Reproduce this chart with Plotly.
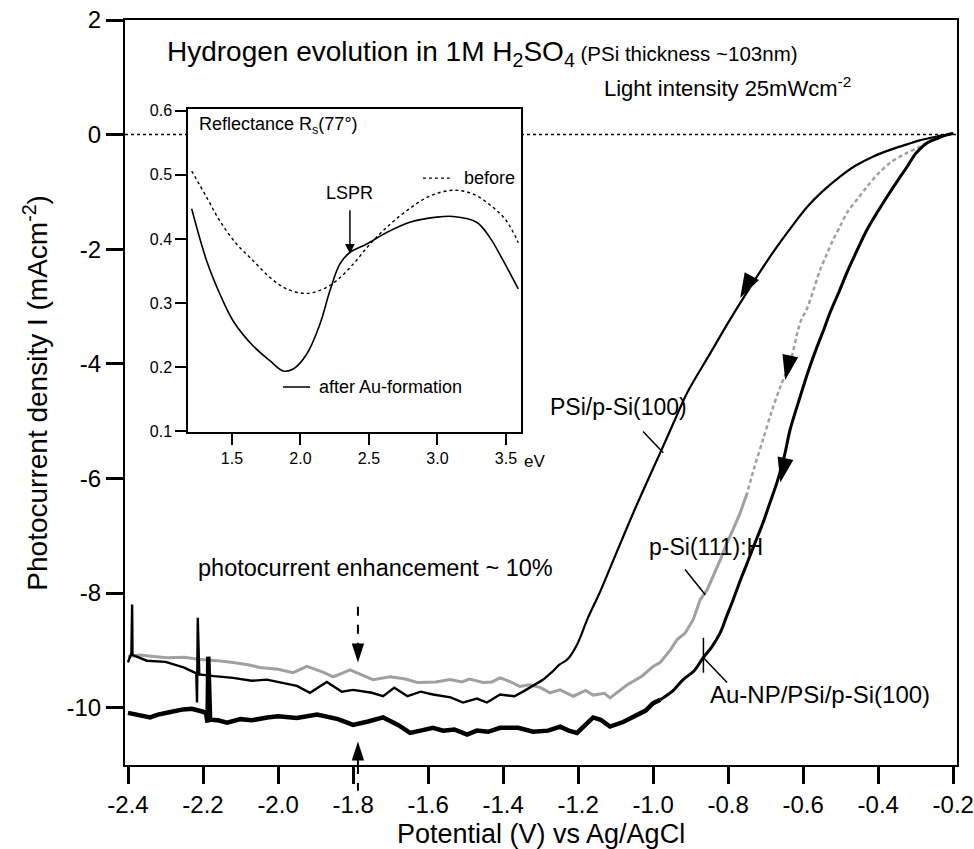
import plotly.graph_objects as go

# ---------------- main panel data ----------------
psi_x = [-0.200, -0.215, -0.235, -0.256, -0.290, -0.323, -0.370, -0.413, -0.460, -0.501,
         -0.550, -0.589, -0.630, -0.680, -0.745, -0.800, -0.850, -0.909, -0.945, -0.981,
         -1.017, -1.053, -1.100, -1.141, -1.175, -1.203, -1.229, -1.250, -1.270, -1.293,
         -1.320, -1.347, -1.370, -1.408, -1.443, -1.470, -1.507, -1.540, -1.587, -1.620,
         -1.655, -1.690, -1.720, -1.750, -1.800, -1.830, -1.870, -1.915, -1.950, -2.000,
         -2.030, -2.070, -2.120, -2.170, -2.210, -2.214, -2.216, -2.218, -2.250, -2.300,
         -2.350, -2.380, -2.388, -2.389, -2.391, -2.400]
psi_y = [0.02, 0.00, -0.02, -0.05, -0.10, -0.17, -0.27, -0.38, -0.54, -0.73,
         -1.00, -1.26, -1.60, -2.05, -2.70, -3.28, -3.84, -4.50, -5.02, -5.55,
         -6.07, -6.60, -7.33, -7.97, -8.45, -8.90, -9.16, -9.25, -9.38, -9.51,
         -9.62, -9.72, -9.80, -9.77, -9.91, -9.84, -9.91, -9.82, -9.77, -9.72,
         -9.80, -9.65, -9.80, -9.74, -9.69, -9.72, -9.55, -9.74, -9.62, -9.55,
         -9.51, -9.53, -9.48, -9.45, -9.42, -8.43, -9.91, -9.40, -9.30, -9.20,
         -9.18, -9.10, -9.08, -8.20, -9.05, -9.21]
psi_smooth_end = 29     # smooth photo-onset part ends here, noisy plateau follows

si111_x = [-0.200, -0.215, -0.240, -0.265, -0.288, -0.330, -0.368, -0.400, -0.430, -0.455,
           -0.483, -0.500, -0.520, -0.538, -0.555, -0.572, -0.589, -0.608, -0.635, -0.661,
           -0.685, -0.707, -0.730, -0.749, -0.768, -0.787, -0.805, -0.821, -0.840, -0.856,
           -0.875, -0.893, -0.915, -0.936, -0.955, -0.981, -1.000, -1.030, -1.069, -1.090,
           -1.115, -1.130, -1.160, -1.180, -1.213, -1.248, -1.275, -1.300, -1.330, -1.355,
           -1.380, -1.408, -1.430, -1.453, -1.490, -1.510, -1.541, -1.580, -1.629, -1.660,
           -1.701, -1.747, -1.780, -1.808, -1.830, -1.853, -1.880, -1.923, -1.960, -2.000,
           -2.048, -2.080, -2.120, -2.160, -2.208, -2.250, -2.296, -2.340, -2.370, -2.400]
si111_y = [0.02, 0.00, -0.05, -0.12, -0.21, -0.34, -0.49, -0.68, -0.91, -1.12,
           -1.36, -1.58, -1.83, -2.10, -2.36, -2.70, -3.02, -3.28, -3.98, -4.40,
           -4.85, -5.32, -5.80, -6.25, -6.60, -6.89, -7.15, -7.42, -7.70, -7.94,
           -8.12, -8.46, -8.70, -8.81, -9.00, -9.21, -9.28, -9.45, -9.60, -9.70,
           -9.83, -9.75, -9.78, -9.70, -9.80, -9.69, -9.74, -9.65, -9.60, -9.63,
           -9.55, -9.48, -9.55, -9.56, -9.50, -9.55, -9.51, -9.55, -9.56, -9.50,
           -9.46, -9.51, -9.42, -9.34, -9.40, -9.46, -9.38, -9.28, -9.39, -9.33,
           -9.30, -9.25, -9.21, -9.18, -9.16, -9.12, -9.13, -9.10, -9.08, -9.11]
si111_dash_end = 23   # dashed part of the p-Si(111):H sweep

au_x = [-0.200, -0.215, -0.240, -0.269, -0.300, -0.323, -0.350, -0.376, -0.400, -0.430,
        -0.455, -0.483, -0.505, -0.528, -0.545, -0.563, -0.585, -0.608, -0.635, -0.650,
        -0.669, -0.690, -0.707, -0.730, -0.749, -0.770, -0.787, -0.805, -0.821, -0.845,
        -0.867, -0.890, -0.920, -0.950, -0.981, -1.000, -1.020, -1.053, -1.080, -1.115,
        -1.140, -1.160, -1.180, -1.203, -1.225, -1.248, -1.280, -1.320, -1.360, -1.408,
        -1.440, -1.470, -1.496, -1.530, -1.560, -1.587, -1.620, -1.648, -1.680, -1.720,
        -1.760, -1.800, -1.840, -1.896, -1.950, -2.000, -2.029, -2.070, -2.100, -2.136,
        -2.160, -2.181, -2.186, -2.188, -2.192, -2.200, -2.230, -2.253, -2.290, -2.320,
        -2.341, -2.370, -2.400]
au_y = [0.02, 0.00, -0.06, -0.14, -0.33, -0.56, -0.82, -1.08, -1.33, -1.66,
        -2.00, -2.40, -2.75, -3.10, -3.40, -3.70, -4.10, -4.57, -5.15, -5.60,
        -6.05, -6.45, -6.77, -7.15, -7.47, -7.82, -8.12, -8.42, -8.69, -8.95,
        -9.13, -9.35, -9.51, -9.72, -9.86, -9.92, -10.05, -10.16, -10.25, -10.33,
        -10.21, -10.17, -10.30, -10.44, -10.40, -10.33, -10.40, -10.42, -10.35, -10.35,
        -10.42, -10.40, -10.47, -10.38, -10.40, -10.35, -10.40, -10.44, -10.30, -10.17,
        -10.24, -10.30, -10.20, -10.12, -10.18, -10.15, -10.17, -10.22, -10.20, -10.26,
        -10.22, -10.21, -9.11, -10.26, -10.10, -10.07, -10.02, -10.03, -10.08, -10.12,
        -10.17, -10.13, -10.09]
au_smooth_end = 34

x_ticks = [-2.4, -2.2, -2.0, -1.8, -1.6, -1.4, -1.2, -1.0, -0.8, -0.6, -0.4, -0.2]
y_ticks = [-10, -8, -6, -4, -2, 0, 2]
x_range = [-2.408, -0.19]
y_range = [-11.0, 2.0]

# arrow heads along the sweeps: (x, y, direction angle)
sweep_arrow_x = [-0.768, -0.648, -0.661]
sweep_arrow_y = [-2.85, -4.28, -6.07]
sweep_arrow_angle = [208, 192, 192]

# enhancement markers at -1.79 V
enh_x = -1.787
enh_top = [-8.24, -9.21]
enh_bottom = [-10.59, -11.45]

# ---------------- inset data ----------------
after_E = [1.206, 1.315, 1.412, 1.509, 1.655, 1.777, 1.874, 1.947, 2.045, 2.142,
           2.215, 2.288, 2.361, 2.483, 2.629, 2.799, 2.994, 3.115, 3.286, 3.383,
           3.480, 3.590]
after_R = [0.447, 0.366, 0.314, 0.272, 0.233, 0.210, 0.194, 0.197, 0.220, 0.267,
           0.319, 0.361, 0.379, 0.392, 0.410, 0.426, 0.434, 0.435, 0.426, 0.402,
           0.366, 0.322]
before_E = [1.206, 1.315, 1.412, 1.534, 1.655, 1.777, 1.899, 2.045, 2.167, 2.264,
            2.386, 2.508, 2.629, 2.775, 2.945, 3.115, 3.261, 3.407, 3.504, 3.590]
before_R = [0.506, 0.465, 0.428, 0.392, 0.366, 0.340, 0.322, 0.315, 0.322, 0.335,
            0.361, 0.392, 0.418, 0.444, 0.467, 0.476, 0.470, 0.449, 0.428, 0.394]
inset_x_ticks = [1.5, 2.0, 2.5, 3.0, 3.5]
inset_y_ticks = [0.1, 0.2, 0.3, 0.4, 0.5, 0.6]
inset_x_range = [1.179, 3.61]
inset_y_range = [0.098, 0.603]
lspr_E = 2.361
lspr_R = [0.447, 0.377]
ev_unit_E = 3.62

FONT = "Arial, Liberation Sans, sans-serif"
inset_dom_x = [0.0757, 0.476]
inset_dom_y = [0.4464, 0.8807]

fig = go.Figure()

def main_px_to_x(frac):
    return x_range[0] + frac * (x_range[1] - x_range[0])

def y_to_paper(v):
    return (v - y_range[0]) / (y_range[1] - y_range[0])

def inset_E_to_paper(e):
    f = (e - inset_x_range[0]) / (inset_x_range[1] - inset_x_range[0])
    return inset_dom_x[0] + f * (inset_dom_x[1] - inset_dom_x[0])

def add_curve(xs, ys, split, color, w_smooth, w_flat, dash_smooth=None):
    fig.add_trace(go.Scatter(x=xs[:split + 1], y=ys[:split + 1], mode="lines",
                             line=dict(color=color, width=w_smooth, dash=dash_smooth,
                                       shape="spline", smoothing=0.9), showlegend=False))
    fig.add_trace(go.Scatter(x=xs[split:], y=ys[split:], mode="lines",
                             line=dict(color=color, width=w_flat), showlegend=False))

add_curve(si111_x, si111_y, si111_dash_end, "#a0a0a0", 2.5, 3, "4px,3px")
add_curve(psi_x, psi_y, psi_smooth_end, "black", 2.2, 2.4)
add_curve(au_x, au_y, au_smooth_end, "black", 3, 4.5)

# sweep direction arrows
fig.add_trace(go.Scatter(x=sweep_arrow_x, y=sweep_arrow_y, mode="markers",
                         marker=dict(symbol="arrow", size=26, angle=sweep_arrow_angle, color="black",
                                     line=dict(width=0)), showlegend=False))
# enhancement arrows
fig.add_trace(go.Scatter(x=[enh_x, enh_x], y=[enh_top[1], enh_bottom[0]], mode="markers",
                         marker=dict(symbol="arrow", size=20, angle=[180, 0], color="black",
                                     line=dict(width=0)), showlegend=False))

# inset curves
fig.add_trace(go.Scatter(x=before_E, y=before_R, mode="lines", xaxis="x2", yaxis="y2",
                         line=dict(color="black", width=1.4, dash="dot", shape="spline"), showlegend=False))
fig.add_trace(go.Scatter(x=after_E, y=after_R, mode="lines", xaxis="x2", yaxis="y2",
                         line=dict(color="black", width=1.6, shape="spline"), showlegend=False))

shapes = []
# zero line split around the inset
x_in_left = main_px_to_x(inset_dom_x[0])
x_in_right = main_px_to_x(inset_dom_x[1])
for xa, xb in [(x_range[0], x_in_left), (x_in_right, x_range[1])]:
    shapes.append(dict(type="line", xref="x", yref="y", x0=xa, x1=xb, y0=0, y1=0,
                       line=dict(color="black", width=1.5, dash="dot")))
# leader lines
for (x0, y0, x1, y1) in [(-1.027, -5.18, -0.973, -5.55),
                         (-0.915, -7.59, -0.861, -8.03),
                         (-0.866, -9.13, -0.803, -9.56),
                         (-0.866, -8.78, -0.866, -9.39)]:
    shapes.append(dict(type="line", xref="x", yref="y", x0=x0, x1=x1, y0=y0, y1=y1,
                       line=dict(color="black", width=1.5)))
# enhancement arrow shafts
shapes.append(dict(type="line", xref="x", yref="y", x0=enh_x, x1=enh_x, y0=enh_top[0], y1=-8.9,
                   line=dict(color="black", width=2, dash="dash")))
shapes.append(dict(type="line", xref="x", yref="y", x0=enh_x, x1=enh_x, y0=-10.8, y1=y_range[0],
                   line=dict(color="black", width=2)))
shapes.append(dict(type="line", xref="x", yref="paper", x0=enh_x, x1=enh_x,
                   y0=y_to_paper(y_range[0]), y1=y_to_paper(enh_bottom[1]),
                   line=dict(color="black", width=2, dash="dash")))
# inset legend samples
shapes.append(dict(type="line", xref="x2", yref="y2", x0=2.894, x1=3.09, y0=0.495, y1=0.495,
                   line=dict(color="black", width=1.4, dash="dot")))
shapes.append(dict(type="line", xref="x2", yref="y2", x0=1.872, x1=2.07, y0=0.169, y1=0.169,
                   line=dict(color="black", width=1.6)))

annotations = [
    dict(text="Hydrogen evolution in 1M H<sub>2</sub>SO<sub>4</sub><span style='font-size:20.5px'> (PSi thickness ~103nm)</span>",
         xref="paper", yref="paper", x=0.048, y=0.955, xanchor="left", yanchor="middle",
         showarrow=False, font=dict(size=28)),
    dict(text="Light intensity 25mWcm<sup>-2</sup>", xref="paper", yref="paper", x=0.573, y=0.91,
         xanchor="left", yanchor="middle", showarrow=False, font=dict(size=22)),
    dict(text="PSi/p-Si(100)", xref="x", yref="y", x=-1.28, y=-4.76, xanchor="left", yanchor="middle",
         showarrow=False, font=dict(size=23)),
    dict(text="p-Si(111):H", xref="x", yref="y", x=-1.016, y=-7.19, xanchor="left", yanchor="middle",
         showarrow=False, font=dict(size=23)),
    dict(text="Au-NP/PSi/p-Si(100)", xref="x", yref="y", x=-0.853, y=-9.77, xanchor="left", yanchor="middle",
         showarrow=False, font=dict(size=24)),
    dict(text="photocurrent enhancement ~ 10%", xref="x", yref="y", x=-1.741, y=-7.56,
         xanchor="center", yanchor="middle", showarrow=False, font=dict(size=23.5)),
    dict(text="Photocurrent density I (mAcm<sup>-2</sup>)", xref="paper", yref="paper", x=-0.108, y=0.5,
         xanchor="center", yanchor="middle", textangle=-90, showarrow=False, font=dict(size=28)),
    dict(text="Potential (V) vs Ag/AgCl", xref="paper", yref="paper", x=0.5, y=-0.093,
         xanchor="center", yanchor="middle", showarrow=False, font=dict(size=27)),
    # inset texts
    dict(text="Reflectance R<sub>s</sub>(77°)", xref="x2", yref="y2", x=1.245, y=0.577,
         xanchor="left", yanchor="middle", showarrow=False, font=dict(size=18)),
    dict(text="LSPR", xref="x2", yref="y2", x=lspr_E, y=0.472, xanchor="center", yanchor="middle",
         showarrow=False, font=dict(size=18)),
    dict(text="before", xref="x2", yref="y2", x=3.179, y=0.495, xanchor="left", yanchor="middle",
         showarrow=False, font=dict(size=18)),
    dict(text="after Au-formation", xref="x2", yref="y2", x=2.118, y=0.169, xanchor="left",
         yanchor="middle", showarrow=False, font=dict(size=18)),
    dict(text="eV", xref="paper", yref="paper", x=inset_E_to_paper(ev_unit_E), y=inset_dom_y[0] - 0.0385,
         xanchor="left", yanchor="middle", showarrow=False, font=dict(size=17)),
    dict(text="", xref="x2", yref="y2", x=lspr_E, y=lspr_R[1], ax=lspr_E, ay=lspr_R[0],
         axref="x2", ayref="y2", showarrow=True, arrowhead=2, arrowsize=1.3, arrowwidth=1.5,
         arrowcolor="black"),
]

axis_common = dict(showline=True, linecolor="black", mirror=True, showgrid=False, zeroline=False,
                   ticks="outside", tickcolor="black", automargin=False)

fig.update_layout(
    width=974, height=849,
    margin=dict(l=125, r=17, t=20, b=84),
    paper_bgcolor="white", plot_bgcolor="white",
    font=dict(family=FONT, color="black"),
    showlegend=False,
    xaxis=dict(range=x_range, tickvals=x_ticks, ticktext=[f"{v:.1f}" for v in x_ticks],
               linewidth=2, ticklen=17, tickwidth=2.5, tickfont=dict(size=24),
               ticklabeloverflow="allow", **axis_common),
    yaxis=dict(range=y_range, tickvals=y_ticks, ticktext=[str(v) for v in y_ticks],
               linewidth=2, ticklen=17, tickwidth=2.5, tickfont=dict(size=24), **axis_common),
    xaxis2=dict(domain=inset_dom_x, anchor="y2", range=inset_x_range, tickvals=inset_x_ticks,
                ticktext=[f"{v:.1f}" for v in inset_x_ticks], linewidth=1.5, ticklen=11, tickwidth=1.5,
                tickfont=dict(size=16), **axis_common),
    yaxis2=dict(domain=inset_dom_y, anchor="x2", range=inset_y_range, tickvals=inset_y_ticks,
                ticktext=[f"{v:.1f}" for v in inset_y_ticks], linewidth=1.5, ticklen=11, tickwidth=1.5,
                tickfont=dict(size=16), **axis_common),
    shapes=shapes,
    annotations=annotations,
)

fig.write_html("out.html")
